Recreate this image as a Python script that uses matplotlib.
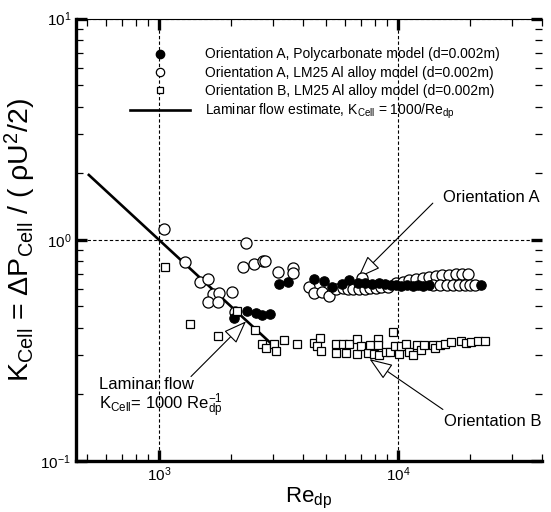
import matplotlib
matplotlib.use("Agg")
import matplotlib.pyplot as plt
from matplotlib.lines import Line2D

plt.rcParams["font.family"] = ["Liberation Sans", "DejaVu Sans"]
plt.rcParams["mathtext.fontset"] = "custom"
plt.rcParams["mathtext.rm"] = "Liberation Sans"
plt.rcParams["mathtext.it"] = "Liberation Sans:italic"
plt.rcParams["mathtext.bf"] = "Liberation Sans:bold"

# Orientation A, Polycarbonate model (filled circles)
re_poly = [2066, 2334, 2545, 2690, 2905, 3178, 3467, 4468, 4918, 5300, 5800, 6250,
           6800, 7300, 7800, 8300, 8800, 9300, 9800, 10300, 10900, 11500, 12100,
           12700, 13400, 22200]
k_poly = [0.441, 0.476, 0.467, 0.458, 0.464, 0.629, 0.646, 0.666, 0.653, 0.615, 0.63,
          0.655, 0.635, 0.64, 0.632, 0.636, 0.63, 0.628, 0.625, 0.62, 0.628, 0.62, 0.625,
          0.62, 0.625, 0.625]

# Orientation A, LM25 Al alloy model (open circles)
re_lm_a = [1046, 1285, 1489, 1607, 1678, 1787, 1607, 1770, 2014, 2075, 2255, 2312,
           2507, 2729, 2785, 3156, 3648, 3626, 4256, 4440, 4790, 5160, 5510, 5870,
           6160, 6500, 6850, 7050, 7250, 7650, 8050, 8500, 9050, 9820, 10460, 11140,
           11870, 12650, 13470, 14360, 15300, 16300, 17370, 18500, 19500,
           14000, 15000, 16000, 17000, 18000, 19000, 20000, 21000]
k_lm_a = [1.118, 0.792, 0.642, 0.667, 0.569, 0.573, 0.525, 0.525, 0.582, 0.472, 0.751,
          0.972, 0.778, 0.803, 0.803, 0.718, 0.744, 0.706, 0.612, 0.575, 0.578, 0.555,
          0.599, 0.603, 0.6, 0.598, 0.602, 0.672, 0.6, 0.603, 0.605, 0.61, 0.615,
          0.637, 0.645, 0.655, 0.665, 0.672, 0.68, 0.688, 0.692, 0.696, 0.7, 0.703,
          0.7, 0.622, 0.624, 0.622, 0.624, 0.622, 0.624, 0.622, 0.624]

# Orientation B, LM25 Al alloy model (open squares)
re_lm_b = [1063, 1344, 1770, 2114, 2524, 2700, 2795, 3040, 3093, 3343, 3777, 4437,
           4717, 4570, 4765, 5510, 5510, 5870, 6055, 6250, 6730, 6730, 6995, 7460,
           7650, 7955, 8220, 8220, 8300, 8910, 9200, 9505, 9660, 10120, 10300, 10800,
           11150, 11530, 12000, 12480, 12820, 13970, 14190, 14890, 15630, 16680,
           18370, 19270, 20200, 21550, 22960]
k_lm_b = [0.756, 0.418, 0.367, 0.476, 0.390, 0.339, 0.324, 0.339, 0.313, 0.351, 0.337,
          0.343, 0.361, 0.331, 0.314, 0.337, 0.307, 0.337, 0.307, 0.337, 0.357, 0.305,
          0.330, 0.307, 0.333, 0.305, 0.357, 0.333, 0.300, 0.311, 0.311, 0.385, 0.330,
          0.305, 0.330, 0.339, 0.311, 0.300, 0.333, 0.316, 0.333, 0.333, 0.325, 0.333,
          0.337, 0.345, 0.349, 0.341, 0.345, 0.349, 0.349]

# laminar flow estimate K = 1000 / Re
re_lam = [509, 3030]
k_lam = [1000 / r for r in re_lam]

fig = plt.figure(figsize=(5.51, 5.12), dpi=100)
ax = fig.add_axes([0.138, 0.0996, 0.846, 0.864])
ax.set_xscale("log")
ax.set_yscale("log")
ax.set_xlim(450, 40000)
ax.set_ylim(0.1, 10)

ax.plot(re_lam, k_lam, color="black", lw=1.9, zorder=3)
ax.plot(re_lm_a, k_lm_a, "o", ms=8, mfc="white", mec="black", mew=0.9, ls="none", zorder=4)
ax.plot(re_poly, k_poly, "o", ms=6.8, mfc="black", mec="black", mew=0.8, ls="none", zorder=5)
ax.plot(re_lm_b, k_lm_b, "s", ms=5.8, mfc="white", mec="black", mew=0.9, ls="none", zorder=6)

for s in ["left", "bottom"]:
    ax.spines[s].set_linewidth(2.4)
ax.spines["top"].set_linewidth(0.8)
ax.spines["right"].set_visible(False)
ax.grid(which="major", ls=(0, (3, 2)), color="black", lw=0.8)
ax.tick_params(which="both", direction="in", top=True, right=True, labelsize=11)
ax.tick_params(which="major", length=8, width=2.4)
ax.tick_params(which="minor", length=5, width=0.9)

ax.set_xlabel(r"Re$_{\mathrm{dp}}$", fontsize=16, labelpad=1)
ax.set_ylabel("K$_{\\mathrm{Cell}}$ = \u0394P$_{\\mathrm{Cell}}$ / ( \u03c1U$^{2}$/2)",
              fontsize=20.5, labelpad=2)

handles = [
    Line2D([], [], marker="o", ls="none", ms=6, mfc="black", mec="black"),
    Line2D([], [], marker="o", ls="none", ms=6, mfc="white", mec="black", mew=0.9),
    Line2D([], [], marker="s", ls="none", ms=5, mfc="white", mec="black", mew=0.9),
    Line2D([], [], color="black", lw=1.9),
]
labels = [
    "Orientation A, Polycarbonate model (d=0.002m)",
    "Orientation A, LM25 Al alloy model (d=0.002m)",
    "Orientation B, LM25 Al alloy model (d=0.002m)",
    r"Laminar flow estimate, K$_{\mathrm{Cell}}$ = 1000/Re$_{\mathrm{dp}}$",
]
ax.legend(handles, labels, loc="upper left", bbox_to_anchor=(0.116, 0.935),
          frameon=False, fontsize=10, borderpad=0, borderaxespad=0,
          handlelength=4.3, handletextpad=1.1, labelspacing=0.3)

arrow = dict(arrowstyle="-|>,head_length=0.8,head_width=0.3", fc="white", ec="black",
             lw=0.8, mutation_scale=18, shrinkA=0, shrinkB=0)
ax.text(15400, 1.55, "Orientation A", fontsize=12, ha="left", va="center")
ax.annotate("", xy=(6780, 0.672), xytext=(13960, 1.465), arrowprops=arrow)
ax.text(15500, 0.151, "Orientation B", fontsize=12, ha="left", va="center")
ax.annotate("", xy=(7590, 0.289), xytext=(15380, 0.171), arrowprops=arrow)
ax.text(563, 0.222, "Laminar flow", fontsize=12, ha="left", va="center")
ax.text(563, 0.178, r"K$_{\mathrm{Cell}}$= 1000 Re$_{\mathrm{dp}}^{-1}$", fontsize=12,
        ha="left", va="center")
ax.annotate("", xy=(2311, 0.428), xytext=(1361, 0.241), arrowprops=arrow)

fig.savefig("out.png", dpi=100)
